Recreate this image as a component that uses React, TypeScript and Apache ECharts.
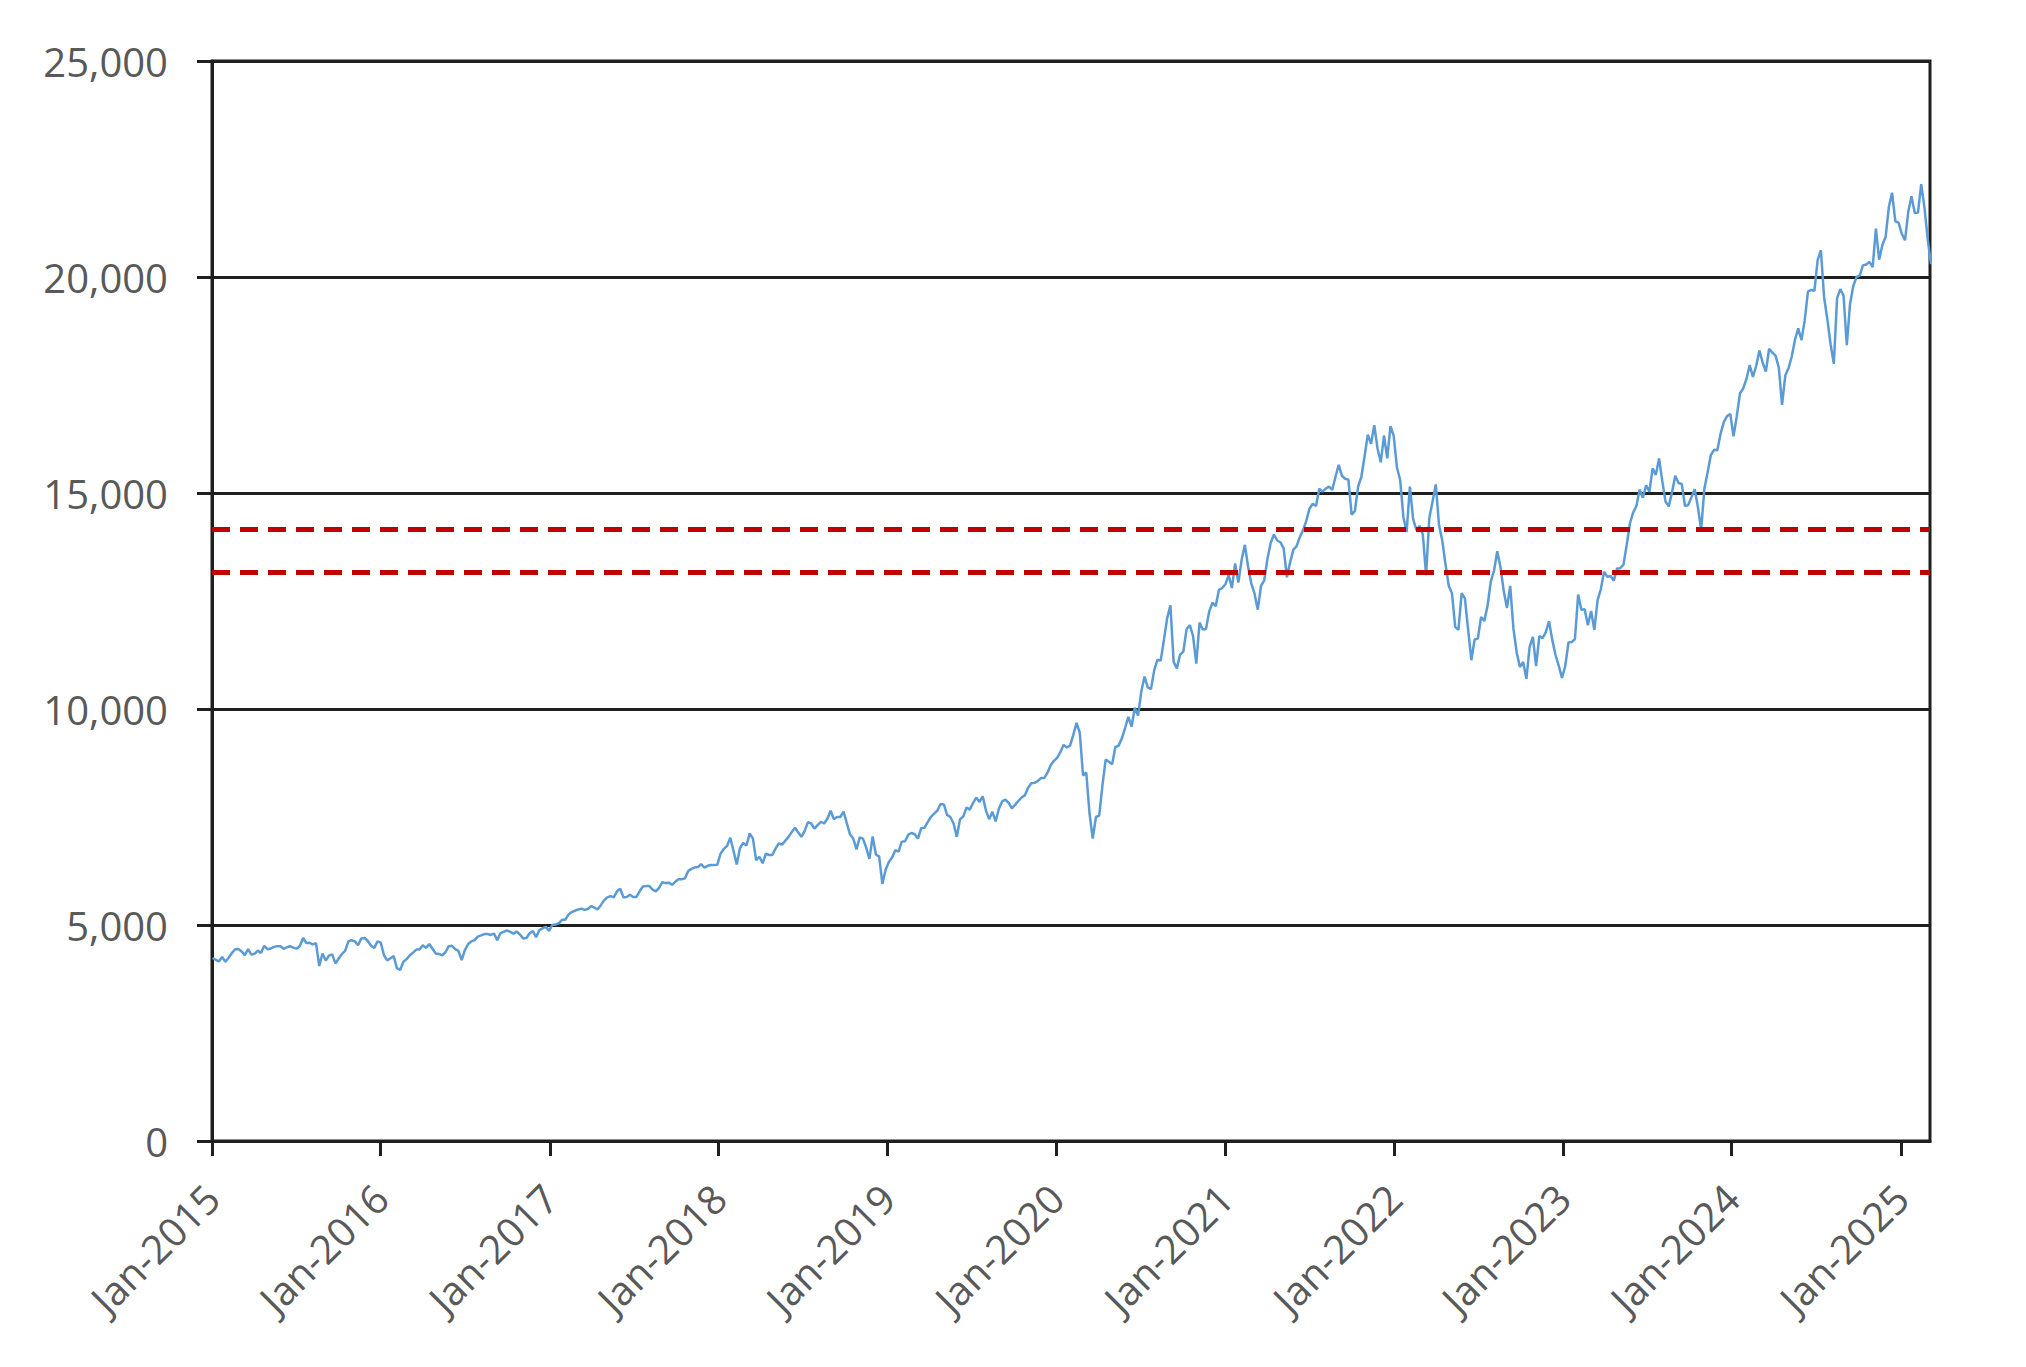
import React, { useEffect, useRef } from "react";
import * as echarts from "echarts";

// Weekly (Friday) index levels, first week = 2 Jan 2015
const startDate = "2015-01-02";

const values2015 = [4236, 4195, 4160, 4260, 4151, 4242, 4351, 4440, 4443, 4389, 4302, 4440, 4315, 4334, 4407, 4354, 4520, 4439, 4455, 4494, 4511, 4508, 4448, 4485, 4508, 4475, 4452, 4513, 4700, 4582, 4589, 4550, 4580, 4050, 4341, 4180, 4290, 4320, 4110, 4225, 4330, 4400, 4620, 4648, 4620, 4530, 4690, 4700, 4630, 4520, 4470, 4620];
const values2016 = [4593, 4300, 4180, 4230, 4279, 4000, 3960, 4150, 4210, 4300, 4360, 4430, 4430, 4530, 4470, 4560, 4450, 4341, 4330, 4300, 4370, 4510, 4520, 4440, 4400, 4190, 4420, 4560, 4620, 4650, 4731, 4760, 4790, 4790, 4770, 4800, 4650, 4810, 4840, 4875, 4840, 4800, 4850, 4780, 4690, 4700, 4810, 4860, 4720, 4880, 4920, 4960, 4864];
const values2017 = [5000, 5010, 5040, 5120, 5120, 5240, 5300, 5330, 5360, 5380, 5350, 5370, 5436, 5400, 5360, 5460, 5570, 5640, 5670, 5640, 5780, 5840, 5640, 5650, 5700, 5647, 5650, 5780, 5890, 5900, 5900, 5820, 5780, 5860, 5990, 5970, 5980, 5930, 6000, 6060, 6060, 6080, 6250, 6300, 6330, 6340, 6410, 6330, 6370, 6390, 6390, 6397];
const values2018 = [6650, 6760, 6830, 7020, 6720, 6400, 6780, 6900, 6840, 7120, 7000, 6500, 6580, 6430, 6650, 6620, 6620, 6770, 6890, 6860, 6950, 7040, 7150, 7250, 7140, 7040, 7180, 7380, 7350, 7230, 7310, 7390, 7350, 7460, 7646, 7450, 7500, 7500, 7627, 7360, 7100, 7000, 6750, 7030, 7000, 6790, 6530, 7050, 6630, 6590, 5950, 6280];
const values2019 = [6460, 6560, 6730, 6700, 6930, 6940, 7090, 7130, 7100, 7000, 7240, 7250, 7380, 7500, 7580, 7650, 7800, 7790, 7550, 7500, 7350, 7040, 7450, 7510, 7720, 7670, 7820, 7950, 7850, 7980, 7650, 7450, 7620, 7400, 7690, 7860, 7900, 7830, 7700, 7780, 7870, 7950, 8000, 8170, 8280, 8290, 8330, 8400, 8400, 8520, 8700, 8800];
const values2020 = [8870, 9000, 9170, 9110, 9150, 9400, 9680, 9450, 8460, 8530, 7590, 7000, 7500, 7530, 8230, 8830, 8780, 8720, 9120, 9150, 9320, 9560, 9820, 9590, 10030, 9850, 10400, 10750, 10500, 10460, 10900, 11140, 11120, 11600, 12100, 12400, 11090, 10940, 11260, 11330, 11850, 11940, 11690, 11050, 12000, 11840, 11850, 12260, 12460, 12380, 12760, 12800];
const values2021 = [12888, 13100, 12800, 13370, 12925, 13450, 13800, 13300, 12900, 12670, 12300, 12850, 12980, 13480, 13850, 14040, 13900, 13860, 13720, 13050, 13400, 13690, 13770, 13980, 14140, 14360, 14640, 14750, 14700, 15100, 15030, 15100, 15150, 15070, 15370, 15650, 15400, 15330, 15310, 14500, 14580, 15150, 15370, 15850, 16350, 16140, 16570, 16030, 15710, 16330, 15800, 16550, 16320];
const values2022 = [15590, 15300, 14440, 14100, 15150, 14400, 14140, 14240, 14040, 13100, 14420, 14800, 15200, 14260, 13900, 13350, 12855, 12680, 11900, 11830, 12680, 12560, 11830, 11130, 11610, 11630, 12130, 12040, 12390, 12950, 13200, 13650, 13280, 12730, 12340, 12850, 11860, 11310, 10970, 11090, 10700, 11430, 11670, 10990, 11690, 11640, 11780, 12030, 11600, 11250, 11000, 10720];
const values2023 = [10990, 11540, 11550, 11620, 12650, 12300, 12310, 11940, 12270, 11830, 12520, 12770, 13180, 13060, 13080, 12970, 13250, 13260, 13340, 13800, 14300, 14550, 14700, 15080, 14890, 15180, 15030, 15570, 15420, 15800, 15270, 14800, 14690, 15020, 15400, 15230, 15210, 14700, 14720, 14900, 15090, 14670, 14150, 15100, 15480, 15880, 16000, 15990, 16370, 16640, 16780, 16830];
const values2024 = [16310, 16770, 17310, 17420, 17640, 17960, 17690, 17940, 18300, 18020, 17810, 18340, 18250, 18180, 17900, 17040, 17720, 17890, 18160, 18550, 18810, 18540, 19000, 19660, 19700, 19680, 20390, 20620, 19520, 19020, 18440, 17990, 19510, 19720, 19570, 18420, 19370, 19790, 20000, 20030, 20270, 20290, 20350, 20230, 21120, 20400, 20740, 20930, 21620, 21950, 21290, 21260];
const values2025 = [21000, 20850, 21510, 21870, 21480, 21490, 22150, 21610, 20880, 20300];

// Dashed reference levels
const referenceLevels = [14150, 13160];

// Axis ticks
const tickDates = ["2015-01-01", "2016-01-01", "2017-01-01", "2018-01-01", "2019-01-01", "2020-01-01", "2021-01-01", "2022-01-01", "2023-01-01", "2024-01-01", "2025-01-01"];
const tickLabels = ["Jan-2015", "Jan-2016", "Jan-2017", "Jan-2018", "Jan-2019", "Jan-2020", "Jan-2021", "Jan-2022", "Jan-2023", "Jan-2024", "Jan-2025"];
const xMin = "2015-01-01";
const xMax = "2025-03-05";
const yMin = 0;
const yMax = 25000;
const yStep = 5000;

const allValues = [
  ...values2015, ...values2016, ...values2017, ...values2018, ...values2019,
  ...values2020, ...values2021, ...values2022, ...values2023, ...values2024, ...values2025,
];

const toTs = (s: string) => {
  const [y, m, d] = s.split("-").map(Number);
  return Date.UTC(y, m - 1, d);
};

const WEEK = 7 * 24 * 3600 * 1000;
const seriesData = allValues.map((v, i) => [toTs(startDate) + i * WEEK, v]);
const tickTs = tickDates.map(toTs);

const FONT = "'Open Sans', Carlito, Calibri, sans-serif";
const AXIS_COLOR = "#1f1f1f";
const LABEL_COLOR = "#595959";

export default function App() {
  const ref = useRef<HTMLDivElement>(null);

  useEffect(() => {
    if (!ref.current) return;
    const chart = echarts.init(ref.current, undefined, { renderer: "svg" });
    chart.setOption({
      animation: false,
      backgroundColor: "#ffffff",
      grid: {
        left: 212,
        top: 61,
        width: 1718,
        height: 1080,
        show: true,
        borderColor: AXIS_COLOR,
        borderWidth: 3,
        containLabel: false,
      },
      xAxis: {
        type: "value",
        min: toTs(xMin),
        max: toTs(xMax),
        axisLine: { show: true, lineStyle: { color: AXIS_COLOR, width: 3 } },
        axisTick: {
          show: true,
          inside: false,
          length: 15,
          customValues: tickTs,
          lineStyle: { color: AXIS_COLOR, width: 3 },
        },
        axisLabel: {
          show: true,
          customValues: tickTs,
          rotate: 45,
          margin: 50,
          color: LABEL_COLOR,
          fontSize: 40,
          fontFamily: FONT,
          formatter: (v: number) => {
            const idx = tickTs.indexOf(v);
            return idx >= 0 ? tickLabels[idx] : "";
          },
        },
        splitLine: { show: false },
      },
      yAxis: {
        type: "value",
        min: yMin,
        max: yMax,
        interval: yStep,
        axisLine: { show: true, lineStyle: { color: AXIS_COLOR, width: 3 } },
        axisTick: { show: true, inside: false, length: 15, lineStyle: { color: AXIS_COLOR, width: 3 } },
        axisLabel: {
          color: LABEL_COLOR,
          fontSize: 40,
          fontFamily: FONT,
          margin: 44,
          formatter: (v: number) => v.toLocaleString("en-US"),
        },
        splitLine: { show: true, lineStyle: { color: AXIS_COLOR, width: 3 } },
      },
      series: [
        {
          type: "line",
          data: seriesData,
          showSymbol: false,
          symbol: "none",
          lineStyle: { color: "#5B9BD5", width: 2.5 },
          z: 3,
          markLine: {
            silent: true,
            symbol: ["none", "none"],
            label: { show: false },
            lineStyle: { color: "#C00000", width: 5, type: [18, 10] },
            data: referenceLevels.map((v) => ({ yAxis: v })),
          },
        },
      ],
    });
    return () => chart.dispose();
  }, []);

  return (
    <div
      ref={ref}
      style={{ position: "fixed", left: 0, top: 0, width: 2026, height: 1367, background: "#fff" }}
    />
  );
}
